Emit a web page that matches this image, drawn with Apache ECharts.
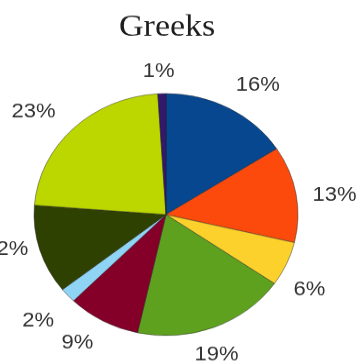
<!DOCTYPE html>
<html>
<head>
<meta charset="utf-8">
<script src="https://cdn.jsdelivr.net/npm/echarts@6/dist/echarts.min.js"></script>
<style>
  html, body { margin: 0; padding: 0; background: #fff; overflow: hidden; }
  #wrap { width: 361px; height: 364px; overflow: hidden; }
  /* the chart is laid out taller and squeezed vertically, giving the slightly wide pie */
  #chart { width: 361px; height: 397px; transform: scaleY(0.917); transform-origin: 0 0; }
</style>
</head>
<body>
<div id="wrap"><div id="chart"></div></div>
<script>
// Share of each group, clockwise from 12 o'clock
const categories = ['A', 'B', 'C', 'D', 'E', 'F', 'G', 'H', 'I'];
const shares = [16, 13, 6, 19, 9, 2, 12, 23, 1];
const sliceColors = ['#07478f', '#fc4a0c', '#fdd12b', '#5ea11f', '#850029', '#8fd3f5', '#2f4100', '#bcd600', '#33186b'];

// small hand nudges (px) for the percentage labels, same order as the slices
const labelNudgeX = [11, 2, -11, -11, -8, -2, 2, -14, -2];
const labelNudgeY = [7, 8, 13, -4, -9, 3, -11, 8, 13];

const center = [166, 234];

const pieData = categories.map((name, i) => ({
  name,
  value: shares[i],
  itemStyle: { color: sliceColors[i] }
}));

const chart = echarts.init(document.getElementById('chart'), null, { renderer: 'canvas' });
chart.setOption({
  animation: false,
  title: {
    text: 'Greeks',
    left: 114,
    top: 8,
    textStyle: {
      fontFamily: '"Liberation Serif", "DejaVu Serif", serif',
      fontWeight: 'normal',
      fontSize: 34,
      color: '#1e1e1e'
    }
  },
  series: [
    {
      type: 'pie',
      center: center,
      radius: [0, 132],
      startAngle: 90,
      clockwise: true,
      silent: true,
      label: { show: false },
      labelLine: { show: false },
      itemStyle: { borderColor: 'rgba(30,30,30,0.55)', borderWidth: 0.8 },
      data: pieData
    },
    {
      // transparent ring that carries the percentage labels around the pie
      type: 'pie',
      center: center,
      radius: [0, 332],
      startAngle: 90,
      clockwise: true,
      silent: true,
      avoidLabelOverlap: false,
      itemStyle: { color: 'rgba(0,0,0,0)', borderWidth: 0 },
      label: {
        show: true,
        position: 'inside',
        formatter: '{c}%',
        fontFamily: '"Liberation Sans", Arial, sans-serif',
        fontSize: 22,
        color: '#333'
      },
      labelLine: { show: false },
      labelLayout: function (params) {
        return { dx: labelNudgeX[params.dataIndex], dy: labelNudgeY[params.dataIndex] };
      },
      data: categories.map((name, i) => ({ name, value: shares[i] }))
    }
  ]
});
</script>
</body>
</html>
